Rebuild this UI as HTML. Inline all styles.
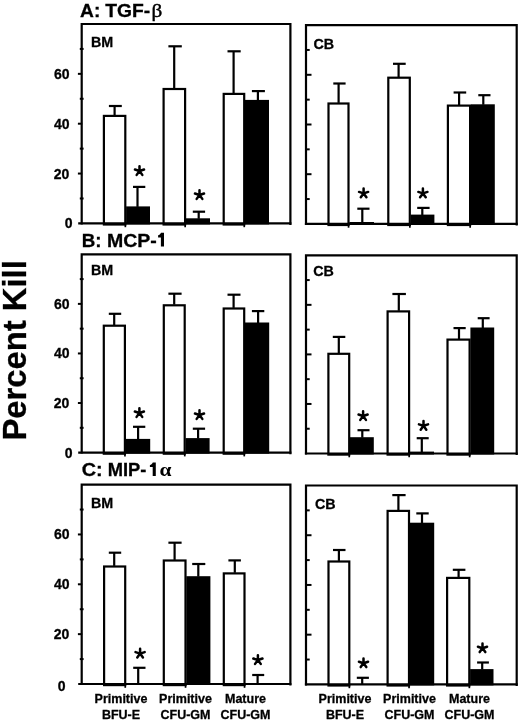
<!DOCTYPE html>
<html><head><meta charset="utf-8"><style>
html,body{margin:0;padding:0;background:#fff;}
svg{display:block;will-change:transform;}
</style></head><body>
<svg width="520" height="723" viewBox="0 0 520 723">
<line x1="114.60" y1="106.00" x2="114.60" y2="115.30" stroke="#000" stroke-width="2.2"/>
<line x1="108.90" y1="106.00" x2="121.80" y2="106.00" stroke="#000" stroke-width="2.2"/>
<rect x="103.90" y="115.90" width="21.40" height="108.60" fill="#fff" stroke="#000" stroke-width="2.2"/>
<line x1="137.50" y1="186.90" x2="137.50" y2="206.90" stroke="#000" stroke-width="2.2"/>
<line x1="133.00" y1="186.90" x2="145.30" y2="186.90" stroke="#000" stroke-width="2.2"/>
<rect x="126.10" y="206.40" width="23.90" height="18.00" fill="#000"/>
<path d="M139.50 171.00L139.50 166.20M139.50 171.00L144.07 169.52M139.50 171.00L142.32 174.88M139.50 171.00L136.68 174.88M139.50 171.00L134.93 169.52" stroke="#000" stroke-width="2.5" stroke-linecap="round" fill="none"/>
<line x1="174.20" y1="46.30" x2="174.20" y2="88.40" stroke="#000" stroke-width="2.2"/>
<line x1="168.40" y1="46.30" x2="181.80" y2="46.30" stroke="#000" stroke-width="2.2"/>
<rect x="163.60" y="89.00" width="21.50" height="135.50" fill="#fff" stroke="#000" stroke-width="2.2"/>
<line x1="198.70" y1="211.70" x2="198.70" y2="218.80" stroke="#000" stroke-width="2.2"/>
<line x1="192.80" y1="211.70" x2="205.10" y2="211.70" stroke="#000" stroke-width="2.2"/>
<rect x="185.90" y="218.30" width="24.10" height="6.10" fill="#000"/>
<path d="M199.50 195.00L199.50 190.20M199.50 195.00L204.07 193.52M199.50 195.00L202.32 198.88M199.50 195.00L196.68 198.88M199.50 195.00L194.93 193.52" stroke="#000" stroke-width="2.5" stroke-linecap="round" fill="none"/>
<line x1="233.60" y1="51.30" x2="233.60" y2="93.30" stroke="#000" stroke-width="2.2"/>
<line x1="227.50" y1="51.30" x2="240.70" y2="51.30" stroke="#000" stroke-width="2.2"/>
<rect x="223.70" y="93.90" width="20.50" height="130.60" fill="#fff" stroke="#000" stroke-width="2.2"/>
<line x1="257.90" y1="91.10" x2="257.90" y2="100.40" stroke="#000" stroke-width="2.2"/>
<line x1="251.90" y1="91.10" x2="264.90" y2="91.10" stroke="#000" stroke-width="2.2"/>
<rect x="245.00" y="99.90" width="24.00" height="124.50" fill="#000"/>
<path d="M81.70 224.40V24.00H290.40V225.00" fill="none" stroke="#000" stroke-width="2.2"/>
<line x1="78.20" y1="223.40" x2="291.40" y2="223.40" stroke="#000" stroke-width="2.2"/>
<line x1="125.35" y1="223.40" x2="125.35" y2="227.20" stroke="#000" stroke-width="1.7"/>
<line x1="185.15" y1="223.40" x2="185.15" y2="227.20" stroke="#000" stroke-width="1.7"/>
<line x1="244.25" y1="223.40" x2="244.25" y2="227.20" stroke="#000" stroke-width="1.7"/>
<line x1="79.80" y1="198.47" x2="83.60" y2="198.47" stroke="#000" stroke-width="2.0"/>
<line x1="77.90" y1="173.55" x2="82.20" y2="173.55" stroke="#000" stroke-width="2.0"/>
<line x1="79.80" y1="148.62" x2="83.60" y2="148.62" stroke="#000" stroke-width="2.0"/>
<line x1="77.90" y1="123.70" x2="82.20" y2="123.70" stroke="#000" stroke-width="2.0"/>
<line x1="79.80" y1="98.77" x2="83.60" y2="98.77" stroke="#000" stroke-width="2.0"/>
<line x1="77.90" y1="73.85" x2="82.20" y2="73.85" stroke="#000" stroke-width="2.0"/>
<line x1="79.80" y1="48.92" x2="83.60" y2="48.92" stroke="#000" stroke-width="2.0"/>
<line x1="338.60" y1="83.50" x2="338.60" y2="102.90" stroke="#000" stroke-width="2.2"/>
<line x1="333.30" y1="83.50" x2="345.60" y2="83.50" stroke="#000" stroke-width="2.2"/>
<rect x="328.50" y="103.50" width="20.00" height="121.50" fill="#fff" stroke="#000" stroke-width="2.2"/>
<line x1="362.30" y1="208.70" x2="362.30" y2="222.50" stroke="#000" stroke-width="2.2"/>
<line x1="357.30" y1="208.70" x2="369.50" y2="208.70" stroke="#000" stroke-width="2.2"/>
<rect x="349.30" y="222.00" width="24.70" height="2.90" fill="#000"/>
<path d="M363.60 193.40L363.60 188.60M363.60 193.40L368.17 191.92M363.60 193.40L366.42 197.28M363.60 193.40L360.78 197.28M363.60 193.40L359.03 191.92" stroke="#000" stroke-width="2.5" stroke-linecap="round" fill="none"/>
<line x1="398.60" y1="63.80" x2="398.60" y2="77.10" stroke="#000" stroke-width="2.2"/>
<line x1="393.00" y1="63.80" x2="405.70" y2="63.80" stroke="#000" stroke-width="2.2"/>
<rect x="388.30" y="77.70" width="21.50" height="147.30" fill="#fff" stroke="#000" stroke-width="2.2"/>
<line x1="422.30" y1="207.90" x2="422.30" y2="215.10" stroke="#000" stroke-width="2.2"/>
<line x1="417.20" y1="207.90" x2="429.60" y2="207.90" stroke="#000" stroke-width="2.2"/>
<rect x="410.60" y="214.60" width="23.80" height="10.30" fill="#000"/>
<path d="M422.90 193.40L422.90 188.60M422.90 193.40L427.47 191.92M422.90 193.40L425.72 197.28M422.90 193.40L420.08 197.28M422.90 193.40L418.33 191.92" stroke="#000" stroke-width="2.5" stroke-linecap="round" fill="none"/>
<line x1="459.10" y1="92.50" x2="459.10" y2="105.00" stroke="#000" stroke-width="2.2"/>
<line x1="453.60" y1="92.50" x2="466.20" y2="92.50" stroke="#000" stroke-width="2.2"/>
<rect x="447.90" y="105.60" width="22.20" height="119.40" fill="#fff" stroke="#000" stroke-width="2.2"/>
<line x1="483.30" y1="95.20" x2="483.30" y2="104.80" stroke="#000" stroke-width="2.2"/>
<line x1="478.30" y1="95.20" x2="490.50" y2="95.20" stroke="#000" stroke-width="2.2"/>
<rect x="470.90" y="104.30" width="23.90" height="120.60" fill="#000"/>
<path d="M306.00 224.90V25.10H516.70V225.50" fill="none" stroke="#000" stroke-width="2.2"/>
<line x1="304.90" y1="223.90" x2="517.70" y2="223.90" stroke="#000" stroke-width="2.2"/>
<line x1="348.55" y1="223.90" x2="348.55" y2="227.70" stroke="#000" stroke-width="1.7"/>
<line x1="409.85" y1="223.90" x2="409.85" y2="227.70" stroke="#000" stroke-width="1.7"/>
<line x1="470.15" y1="223.90" x2="470.15" y2="227.70" stroke="#000" stroke-width="1.7"/>
<line x1="306.00" y1="199.05" x2="309.70" y2="199.05" stroke="#000" stroke-width="2.0"/>
<line x1="306.00" y1="174.20" x2="311.50" y2="174.20" stroke="#000" stroke-width="2.0"/>
<line x1="306.00" y1="149.35" x2="309.70" y2="149.35" stroke="#000" stroke-width="2.0"/>
<line x1="306.00" y1="124.50" x2="311.50" y2="124.50" stroke="#000" stroke-width="2.0"/>
<line x1="306.00" y1="99.65" x2="309.70" y2="99.65" stroke="#000" stroke-width="2.0"/>
<line x1="306.00" y1="74.80" x2="311.50" y2="74.80" stroke="#000" stroke-width="2.0"/>
<line x1="306.00" y1="49.95" x2="309.70" y2="49.95" stroke="#000" stroke-width="2.0"/>
<line x1="114.20" y1="313.80" x2="114.20" y2="325.10" stroke="#000" stroke-width="2.2"/>
<line x1="108.80" y1="313.80" x2="121.20" y2="313.80" stroke="#000" stroke-width="2.2"/>
<rect x="103.80" y="325.70" width="21.10" height="128.00" fill="#fff" stroke="#000" stroke-width="2.2"/>
<line x1="138.10" y1="426.80" x2="138.10" y2="439.40" stroke="#000" stroke-width="2.2"/>
<line x1="133.00" y1="426.80" x2="145.30" y2="426.80" stroke="#000" stroke-width="2.2"/>
<rect x="125.70" y="438.90" width="24.50" height="14.70" fill="#000"/>
<path d="M139.40 413.00L139.40 408.20M139.40 413.00L143.97 411.52M139.40 413.00L142.22 416.88M139.40 413.00L136.58 416.88M139.40 413.00L134.83 411.52" stroke="#000" stroke-width="2.5" stroke-linecap="round" fill="none"/>
<line x1="174.20" y1="293.70" x2="174.20" y2="304.70" stroke="#000" stroke-width="2.2"/>
<line x1="168.40" y1="293.70" x2="181.60" y2="293.70" stroke="#000" stroke-width="2.2"/>
<rect x="163.80" y="305.30" width="20.90" height="148.40" fill="#fff" stroke="#000" stroke-width="2.2"/>
<line x1="198.10" y1="428.70" x2="198.10" y2="438.60" stroke="#000" stroke-width="2.2"/>
<line x1="192.80" y1="428.70" x2="205.10" y2="428.70" stroke="#000" stroke-width="2.2"/>
<rect x="185.50" y="438.10" width="24.10" height="15.50" fill="#000"/>
<path d="M199.50 415.00L199.50 410.20M199.50 415.00L204.07 413.52M199.50 415.00L202.32 418.88M199.50 415.00L196.68 418.88M199.50 415.00L194.93 413.52" stroke="#000" stroke-width="2.5" stroke-linecap="round" fill="none"/>
<line x1="233.60" y1="294.70" x2="233.60" y2="307.90" stroke="#000" stroke-width="2.2"/>
<line x1="227.50" y1="294.70" x2="240.50" y2="294.70" stroke="#000" stroke-width="2.2"/>
<rect x="223.70" y="308.50" width="20.50" height="145.20" fill="#fff" stroke="#000" stroke-width="2.2"/>
<line x1="258.10" y1="311.10" x2="258.10" y2="323.00" stroke="#000" stroke-width="2.2"/>
<line x1="251.90" y1="311.10" x2="264.30" y2="311.10" stroke="#000" stroke-width="2.2"/>
<rect x="245.00" y="322.50" width="24.20" height="131.10" fill="#000"/>
<path d="M81.70 453.60V254.30H290.40V454.20" fill="none" stroke="#000" stroke-width="2.2"/>
<line x1="78.20" y1="452.60" x2="291.40" y2="452.60" stroke="#000" stroke-width="2.2"/>
<line x1="124.95" y1="452.60" x2="124.95" y2="456.40" stroke="#000" stroke-width="1.7"/>
<line x1="184.75" y1="452.60" x2="184.75" y2="456.40" stroke="#000" stroke-width="1.7"/>
<line x1="244.25" y1="452.60" x2="244.25" y2="456.40" stroke="#000" stroke-width="1.7"/>
<line x1="79.80" y1="427.81" x2="83.60" y2="427.81" stroke="#000" stroke-width="2.0"/>
<line x1="77.90" y1="403.03" x2="82.20" y2="403.03" stroke="#000" stroke-width="2.0"/>
<line x1="79.80" y1="378.24" x2="83.60" y2="378.24" stroke="#000" stroke-width="2.0"/>
<line x1="77.90" y1="353.45" x2="82.20" y2="353.45" stroke="#000" stroke-width="2.0"/>
<line x1="79.80" y1="328.66" x2="83.60" y2="328.66" stroke="#000" stroke-width="2.0"/>
<line x1="77.90" y1="303.88" x2="82.20" y2="303.88" stroke="#000" stroke-width="2.0"/>
<line x1="79.80" y1="279.09" x2="83.60" y2="279.09" stroke="#000" stroke-width="2.0"/>
<line x1="338.80" y1="336.90" x2="338.80" y2="353.20" stroke="#000" stroke-width="2.2"/>
<line x1="332.80" y1="336.90" x2="345.30" y2="336.90" stroke="#000" stroke-width="2.2"/>
<rect x="328.40" y="353.80" width="20.80" height="100.80" fill="#fff" stroke="#000" stroke-width="2.2"/>
<line x1="362.30" y1="430.20" x2="362.30" y2="437.70" stroke="#000" stroke-width="2.2"/>
<line x1="357.50" y1="430.20" x2="369.50" y2="430.20" stroke="#000" stroke-width="2.2"/>
<rect x="350.00" y="437.20" width="23.80" height="17.30" fill="#000"/>
<path d="M363.10 416.00L363.10 411.20M363.10 416.00L367.67 414.52M363.10 416.00L365.92 419.88M363.10 416.00L360.28 419.88M363.10 416.00L358.53 414.52" stroke="#000" stroke-width="2.5" stroke-linecap="round" fill="none"/>
<line x1="398.80" y1="294.00" x2="398.80" y2="310.80" stroke="#000" stroke-width="2.2"/>
<line x1="392.40" y1="294.00" x2="405.90" y2="294.00" stroke="#000" stroke-width="2.2"/>
<rect x="387.60" y="311.40" width="21.50" height="143.20" fill="#fff" stroke="#000" stroke-width="2.2"/>
<line x1="421.80" y1="438.20" x2="421.80" y2="452.10" stroke="#000" stroke-width="2.2"/>
<line x1="416.70" y1="438.20" x2="428.70" y2="438.20" stroke="#000" stroke-width="2.2"/>
<rect x="409.90" y="451.60" width="24.10" height="2.90" fill="#000"/>
<path d="M423.50 425.80L423.50 421.00M423.50 425.80L428.07 424.32M423.50 425.80L426.32 429.68M423.50 425.80L420.68 429.68M423.50 425.80L418.93 424.32" stroke="#000" stroke-width="2.5" stroke-linecap="round" fill="none"/>
<line x1="459.00" y1="328.10" x2="459.00" y2="339.00" stroke="#000" stroke-width="2.2"/>
<line x1="453.50" y1="328.10" x2="465.70" y2="328.10" stroke="#000" stroke-width="2.2"/>
<rect x="447.50" y="339.60" width="22.10" height="115.00" fill="#fff" stroke="#000" stroke-width="2.2"/>
<line x1="482.80" y1="318.20" x2="482.80" y2="328.00" stroke="#000" stroke-width="2.2"/>
<line x1="477.70" y1="318.20" x2="489.60" y2="318.20" stroke="#000" stroke-width="2.2"/>
<rect x="470.40" y="327.50" width="23.80" height="127.00" fill="#000"/>
<path d="M306.00 454.50V255.30H516.70V455.10" fill="none" stroke="#000" stroke-width="2.2"/>
<line x1="304.90" y1="453.50" x2="517.70" y2="453.50" stroke="#000" stroke-width="2.2"/>
<line x1="349.25" y1="453.50" x2="349.25" y2="457.30" stroke="#000" stroke-width="1.7"/>
<line x1="409.15" y1="453.50" x2="409.15" y2="457.30" stroke="#000" stroke-width="1.7"/>
<line x1="469.65" y1="453.50" x2="469.65" y2="457.30" stroke="#000" stroke-width="1.7"/>
<line x1="306.00" y1="428.73" x2="309.70" y2="428.73" stroke="#000" stroke-width="2.0"/>
<line x1="306.00" y1="403.95" x2="311.50" y2="403.95" stroke="#000" stroke-width="2.0"/>
<line x1="306.00" y1="379.18" x2="309.70" y2="379.18" stroke="#000" stroke-width="2.0"/>
<line x1="306.00" y1="354.40" x2="311.50" y2="354.40" stroke="#000" stroke-width="2.0"/>
<line x1="306.00" y1="329.62" x2="309.70" y2="329.62" stroke="#000" stroke-width="2.0"/>
<line x1="306.00" y1="304.85" x2="311.50" y2="304.85" stroke="#000" stroke-width="2.0"/>
<line x1="306.00" y1="280.07" x2="309.70" y2="280.07" stroke="#000" stroke-width="2.0"/>
<line x1="114.20" y1="552.70" x2="114.20" y2="565.90" stroke="#000" stroke-width="2.2"/>
<line x1="108.80" y1="552.70" x2="121.20" y2="552.70" stroke="#000" stroke-width="2.2"/>
<rect x="104.10" y="566.50" width="21.10" height="118.60" fill="#fff" stroke="#000" stroke-width="2.2"/>
<line x1="138.20" y1="667.80" x2="138.20" y2="684.00" stroke="#000" stroke-width="2.2"/>
<line x1="133.20" y1="667.80" x2="145.50" y2="667.80" stroke="#000" stroke-width="2.2"/>
<path d="M140.10 653.60L140.10 648.80M140.10 653.60L144.67 652.12M140.10 653.60L142.92 657.48M140.10 653.60L137.28 657.48M140.10 653.60L135.53 652.12" stroke="#000" stroke-width="2.5" stroke-linecap="round" fill="none"/>
<line x1="174.60" y1="542.70" x2="174.60" y2="559.90" stroke="#000" stroke-width="2.2"/>
<line x1="168.40" y1="542.70" x2="181.60" y2="542.70" stroke="#000" stroke-width="2.2"/>
<rect x="163.80" y="560.50" width="21.70" height="124.60" fill="#fff" stroke="#000" stroke-width="2.2"/>
<line x1="198.30" y1="564.00" x2="198.30" y2="576.70" stroke="#000" stroke-width="2.2"/>
<line x1="192.20" y1="564.00" x2="205.30" y2="564.00" stroke="#000" stroke-width="2.2"/>
<rect x="186.30" y="576.20" width="24.10" height="108.80" fill="#000"/>
<line x1="234.80" y1="560.40" x2="234.80" y2="572.80" stroke="#000" stroke-width="2.2"/>
<line x1="228.40" y1="560.40" x2="240.90" y2="560.40" stroke="#000" stroke-width="2.2"/>
<rect x="223.80" y="573.40" width="20.70" height="111.70" fill="#fff" stroke="#000" stroke-width="2.2"/>
<line x1="257.60" y1="675.00" x2="257.60" y2="684.00" stroke="#000" stroke-width="2.2"/>
<line x1="252.20" y1="675.00" x2="264.20" y2="675.00" stroke="#000" stroke-width="2.2"/>
<path d="M257.90 660.00L257.90 655.20M257.90 660.00L262.47 658.52M257.90 660.00L260.72 663.88M257.90 660.00L255.08 663.88M257.90 660.00L253.33 658.52" stroke="#000" stroke-width="2.5" stroke-linecap="round" fill="none"/>
<path d="M81.70 685.00V484.60H290.40V685.60" fill="none" stroke="#000" stroke-width="2.2"/>
<line x1="78.20" y1="684.00" x2="291.40" y2="684.00" stroke="#000" stroke-width="2.2"/>
<line x1="125.25" y1="684.00" x2="125.25" y2="687.80" stroke="#000" stroke-width="1.7"/>
<line x1="185.55" y1="684.00" x2="185.55" y2="687.80" stroke="#000" stroke-width="1.7"/>
<line x1="244.55" y1="684.00" x2="244.55" y2="687.80" stroke="#000" stroke-width="1.7"/>
<line x1="79.80" y1="659.08" x2="83.60" y2="659.08" stroke="#000" stroke-width="2.0"/>
<line x1="77.90" y1="634.15" x2="82.20" y2="634.15" stroke="#000" stroke-width="2.0"/>
<line x1="79.80" y1="609.23" x2="83.60" y2="609.23" stroke="#000" stroke-width="2.0"/>
<line x1="77.90" y1="584.30" x2="82.20" y2="584.30" stroke="#000" stroke-width="2.0"/>
<line x1="79.80" y1="559.38" x2="83.60" y2="559.38" stroke="#000" stroke-width="2.0"/>
<line x1="77.90" y1="534.45" x2="82.20" y2="534.45" stroke="#000" stroke-width="2.0"/>
<line x1="79.80" y1="509.53" x2="83.60" y2="509.53" stroke="#000" stroke-width="2.0"/>
<line x1="338.90" y1="550.00" x2="338.90" y2="560.90" stroke="#000" stroke-width="2.2"/>
<line x1="333.00" y1="550.00" x2="345.50" y2="550.00" stroke="#000" stroke-width="2.2"/>
<rect x="328.50" y="561.50" width="20.80" height="124.00" fill="#fff" stroke="#000" stroke-width="2.2"/>
<line x1="362.20" y1="677.80" x2="362.20" y2="684.40" stroke="#000" stroke-width="2.2"/>
<line x1="356.80" y1="677.80" x2="368.90" y2="677.80" stroke="#000" stroke-width="2.2"/>
<path d="M363.50 663.20L363.50 658.40M363.50 663.20L368.07 661.72M363.50 663.20L366.32 667.08M363.50 663.20L360.68 667.08M363.50 663.20L358.93 661.72" stroke="#000" stroke-width="2.5" stroke-linecap="round" fill="none"/>
<line x1="398.40" y1="495.10" x2="398.40" y2="510.30" stroke="#000" stroke-width="2.2"/>
<line x1="392.30" y1="495.10" x2="405.60" y2="495.10" stroke="#000" stroke-width="2.2"/>
<rect x="387.60" y="510.90" width="21.40" height="174.60" fill="#fff" stroke="#000" stroke-width="2.2"/>
<line x1="422.00" y1="513.40" x2="422.00" y2="523.20" stroke="#000" stroke-width="2.2"/>
<line x1="416.30" y1="513.40" x2="428.70" y2="513.40" stroke="#000" stroke-width="2.2"/>
<rect x="409.80" y="522.70" width="24.40" height="162.70" fill="#000"/>
<line x1="458.60" y1="569.80" x2="458.60" y2="577.30" stroke="#000" stroke-width="2.2"/>
<line x1="452.80" y1="569.80" x2="465.40" y2="569.80" stroke="#000" stroke-width="2.2"/>
<rect x="447.10" y="577.90" width="22.20" height="107.60" fill="#fff" stroke="#000" stroke-width="2.2"/>
<line x1="482.20" y1="662.50" x2="482.20" y2="669.60" stroke="#000" stroke-width="2.2"/>
<line x1="477.10" y1="662.50" x2="488.90" y2="662.50" stroke="#000" stroke-width="2.2"/>
<rect x="470.10" y="669.10" width="23.40" height="16.30" fill="#000"/>
<path d="M482.50 648.20L482.50 643.40M482.50 648.20L487.07 646.72M482.50 648.20L485.32 652.08M482.50 648.20L479.68 652.08M482.50 648.20L477.93 646.72" stroke="#000" stroke-width="2.5" stroke-linecap="round" fill="none"/>
<path d="M306.00 685.40V485.50H516.70V686.00" fill="none" stroke="#000" stroke-width="2.2"/>
<line x1="304.90" y1="684.40" x2="517.70" y2="684.40" stroke="#000" stroke-width="2.2"/>
<line x1="349.35" y1="684.40" x2="349.35" y2="688.20" stroke="#000" stroke-width="1.7"/>
<line x1="409.05" y1="684.40" x2="409.05" y2="688.20" stroke="#000" stroke-width="1.7"/>
<line x1="469.35" y1="684.40" x2="469.35" y2="688.20" stroke="#000" stroke-width="1.7"/>
<line x1="306.00" y1="659.54" x2="309.70" y2="659.54" stroke="#000" stroke-width="2.0"/>
<line x1="306.00" y1="634.67" x2="311.50" y2="634.67" stroke="#000" stroke-width="2.0"/>
<line x1="306.00" y1="609.81" x2="309.70" y2="609.81" stroke="#000" stroke-width="2.0"/>
<line x1="306.00" y1="584.95" x2="311.50" y2="584.95" stroke="#000" stroke-width="2.0"/>
<line x1="306.00" y1="560.09" x2="309.70" y2="560.09" stroke="#000" stroke-width="2.0"/>
<line x1="306.00" y1="535.23" x2="311.50" y2="535.23" stroke="#000" stroke-width="2.0"/>
<line x1="306.00" y1="510.36" x2="309.70" y2="510.36" stroke="#000" stroke-width="2.0"/>
<text x="69.6" y="78.85" font-family="Liberation Sans, sans-serif" font-weight="bold" stroke="#000" stroke-width="0.3" font-size="14" text-anchor="end">60</text>
<text x="69.6" y="128.70" font-family="Liberation Sans, sans-serif" font-weight="bold" stroke="#000" stroke-width="0.3" font-size="14" text-anchor="end">40</text>
<text x="69.4" y="178.55" font-family="Liberation Sans, sans-serif" font-weight="bold" stroke="#000" stroke-width="0.3" font-size="14" text-anchor="end">20</text>
<text x="72.5" y="228.40" font-family="Liberation Sans, sans-serif" font-weight="bold" stroke="#000" stroke-width="0.3" font-size="14" text-anchor="end">0</text>
<text x="91.0" y="47.4" font-family="Liberation Sans, sans-serif" font-weight="bold" stroke="#000" stroke-width="0.3" font-size="14.3">BM</text>
<text x="69.6" y="308.88" font-family="Liberation Sans, sans-serif" font-weight="bold" stroke="#000" stroke-width="0.3" font-size="14" text-anchor="end">60</text>
<text x="69.6" y="358.45" font-family="Liberation Sans, sans-serif" font-weight="bold" stroke="#000" stroke-width="0.3" font-size="14" text-anchor="end">40</text>
<text x="69.4" y="408.03" font-family="Liberation Sans, sans-serif" font-weight="bold" stroke="#000" stroke-width="0.3" font-size="14" text-anchor="end">20</text>
<text x="72.5" y="457.60" font-family="Liberation Sans, sans-serif" font-weight="bold" stroke="#000" stroke-width="0.3" font-size="14" text-anchor="end">0</text>
<text x="91.0" y="275.0" font-family="Liberation Sans, sans-serif" font-weight="bold" stroke="#000" stroke-width="0.3" font-size="14.3">BM</text>
<text x="69.6" y="539.45" font-family="Liberation Sans, sans-serif" font-weight="bold" stroke="#000" stroke-width="0.3" font-size="14" text-anchor="end">60</text>
<text x="69.6" y="589.30" font-family="Liberation Sans, sans-serif" font-weight="bold" stroke="#000" stroke-width="0.3" font-size="14" text-anchor="end">40</text>
<text x="69.4" y="639.15" font-family="Liberation Sans, sans-serif" font-weight="bold" stroke="#000" stroke-width="0.3" font-size="14" text-anchor="end">20</text>
<text x="65.6" y="691.20" font-family="Liberation Sans, sans-serif" font-weight="bold" stroke="#000" stroke-width="0.3" font-size="14" text-anchor="end">0</text>
<text x="91.0" y="507.9" font-family="Liberation Sans, sans-serif" font-weight="bold" stroke="#000" stroke-width="0.3" font-size="14.3">BM</text>
<text x="313.4" y="49.0" font-family="Liberation Sans, sans-serif" font-weight="bold" stroke="#000" stroke-width="0.3" font-size="14.3">CB</text>
<text x="313.3" y="275.8" font-family="Liberation Sans, sans-serif" font-weight="bold" stroke="#000" stroke-width="0.3" font-size="14.3">CB</text>
<text x="314.9" y="508.5" font-family="Liberation Sans, sans-serif" font-weight="bold" stroke="#000" stroke-width="0.3" font-size="14.3">CB</text>
<text transform="translate(80.12,16.6) scale(1.0086,1)" font-family="Liberation Sans, sans-serif" font-weight="bold" stroke="#000" stroke-width="0.3" font-size="19">A:</text>
<text transform="translate(105.18,16.6) scale(1.0151,1)" font-family="Liberation Sans, sans-serif" font-weight="bold" stroke="#000" stroke-width="0.3" font-size="19">TGF-</text>
<text transform="translate(151.4,17.3) scale(1.1,1)" font-family="Liberation Serif, serif" font-size="19.2" stroke="#000" stroke-width="0.45">β</text>
<text transform="translate(81.65,246.6) scale(0.9853,1)" font-family="Liberation Sans, sans-serif" font-weight="bold" stroke="#000" stroke-width="0.3" font-size="19">B:</text>
<text transform="translate(106.89,246.6) scale(1.0276,1)" font-family="Liberation Sans, sans-serif" font-weight="bold" stroke="#000" stroke-width="0.3" font-size="19">MCP-</text>
<path d="M164.0 232.8V246.6H160.9V237.4H158.1V235.20000000000002C159.6 235.10000000000002 160.6 234.0 161.0 232.8Z" fill="#000"/>
<text transform="translate(81.79,476.1) scale(1.0435,1)" font-family="Liberation Sans, sans-serif" font-weight="bold" stroke="#000" stroke-width="0.3" font-size="19">C:</text>
<text transform="translate(107.67,476.1) scale(0.9639,1)" font-family="Liberation Sans, sans-serif" font-weight="bold" stroke="#000" stroke-width="0.3" font-size="19">MIP-</text>
<path d="M155.8 462.5V476.1H152.70000000000002V467.1H149.9V464.9C151.4 464.8 152.4 463.7 152.8 462.5Z" fill="#000"/>
<text transform="translate(159.6,476.2) scale(1.1,1)" font-family="Liberation Serif, serif" font-weight="bold" font-size="19.5">α</text>
<text x="121" y="702.9" font-family="Liberation Sans, sans-serif" font-weight="bold" stroke="#000" stroke-width="0.3" font-size="12.5" text-anchor="middle">Primitive</text>
<text x="121" y="718.8" font-family="Liberation Sans, sans-serif" font-weight="bold" stroke="#000" stroke-width="0.3" font-size="12.5" text-anchor="middle">BFU-E</text>
<text x="185.5" y="702.9" font-family="Liberation Sans, sans-serif" font-weight="bold" stroke="#000" stroke-width="0.3" font-size="12.5" text-anchor="middle">Primitive</text>
<text x="185.5" y="718.8" font-family="Liberation Sans, sans-serif" font-weight="bold" stroke="#000" stroke-width="0.3" font-size="12.5" text-anchor="middle">CFU-GM</text>
<text x="245.5" y="702.9" font-family="Liberation Sans, sans-serif" font-weight="bold" stroke="#000" stroke-width="0.3" font-size="12.5" text-anchor="middle">Mature</text>
<text x="245.5" y="718.8" font-family="Liberation Sans, sans-serif" font-weight="bold" stroke="#000" stroke-width="0.3" font-size="12.5" text-anchor="middle">CFU-GM</text>
<text x="345" y="702.9" font-family="Liberation Sans, sans-serif" font-weight="bold" stroke="#000" stroke-width="0.3" font-size="12.5" text-anchor="middle">Primitive</text>
<text x="345" y="718.8" font-family="Liberation Sans, sans-serif" font-weight="bold" stroke="#000" stroke-width="0.3" font-size="12.5" text-anchor="middle">BFU-E</text>
<text x="409.5" y="702.9" font-family="Liberation Sans, sans-serif" font-weight="bold" stroke="#000" stroke-width="0.3" font-size="12.5" text-anchor="middle">Primitive</text>
<text x="409.5" y="718.8" font-family="Liberation Sans, sans-serif" font-weight="bold" stroke="#000" stroke-width="0.3" font-size="12.5" text-anchor="middle">CFU-GM</text>
<text x="469.5" y="702.9" font-family="Liberation Sans, sans-serif" font-weight="bold" stroke="#000" stroke-width="0.3" font-size="12.5" text-anchor="middle">Mature</text>
<text x="469.5" y="718.8" font-family="Liberation Sans, sans-serif" font-weight="bold" stroke="#000" stroke-width="0.3" font-size="12.5" text-anchor="middle">CFU-GM</text>
<text transform="translate(26.4,440.6) rotate(-90)" font-family="Liberation Sans, sans-serif" font-weight="bold" stroke="#000" stroke-width="0.3" font-size="32.8">Percent Kill</text>
</svg>
</body></html>
